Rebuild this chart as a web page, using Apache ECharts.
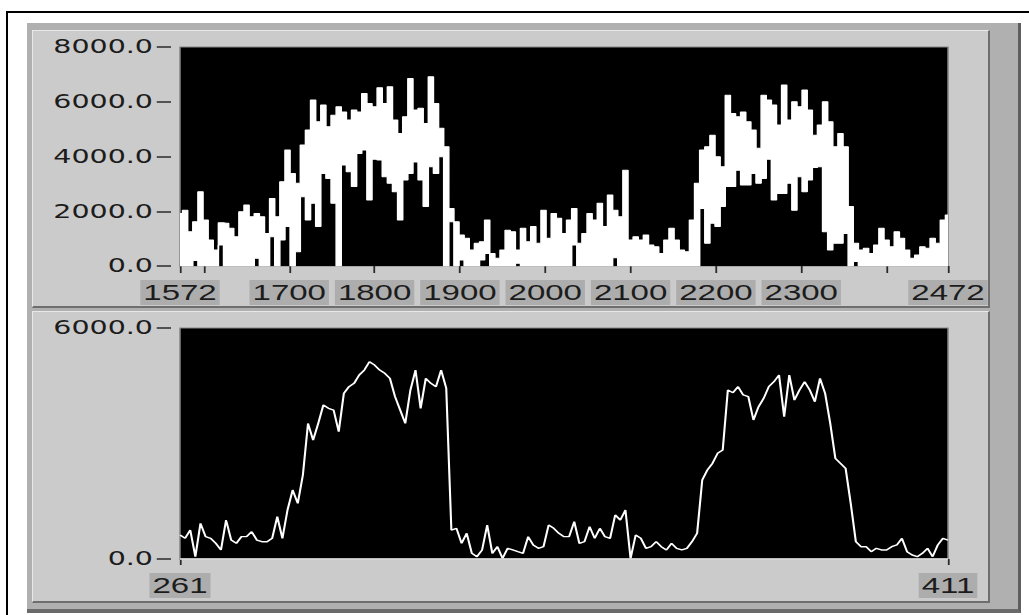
<!DOCTYPE html>
<html>
<head>
<meta charset="utf-8">
<title>Graphs</title>
<script src="https://cdn.jsdelivr.net/npm/echarts@6/dist/echarts.min.js"></script>
<style>
  html, body { margin: 0; padding: 0; background: #fff; }
  body { width: 1029px; height: 615px; position: relative; overflow: hidden; }
  .abs { position: absolute; box-sizing: content-box; }
  #rule-top { left: 6px; top: 11px; width: 1023px; height: 2px; background: #000; }
  #rule-left { left: 6px; top: 11px; width: 2px; height: 604px; background: #000; }
  #frame { left: 27px; top: 23px; width: 991px; height: 586px; background: #b0b0b0; border-right: 3px solid #5e5e5e; border-bottom: 4px solid #6a6a6a; }
  .panel { left: 32px; width: 955px; background: #cbcbcb; border-top: 1px solid #e8e8e8; border-left: 1px solid #e8e8e8; border-right: 2px solid #6e6e6e; border-bottom: 2px solid #6e6e6e; }
  #panel-top { top: 30px; height: 275px; }
  #panel-bottom { top: 311px; height: 289px; }
  /* the old screenshot is stretched sideways, so the chart is drawn narrow and widened */
  #chart { left: 0; top: 0; width: 686px; height: 615px; transform: scaleX(1.5); transform-origin: 0 0; }
</style>
</head>
<body>
<div id="rule-top" class="abs"></div>
<div id="rule-left" class="abs"></div>
<div id="frame" class="abs"></div>
<div id="panel-top" class="abs panel"></div>
<div id="panel-bottom" class="abs panel"></div>
<div id="chart" class="abs"></div>

<script>
// upper graph: one sample every 6 units from 1572, top and bottom edge of the noisy trace
const topStart = 1572
const topStep = 6
const topHigh = [
  1920, 2040, 1250, 1620, 2710, 1680, 950, 580, 1580, 1560,
  1375, 1070, 1980, 2230, 1800, 1920, 1800, 1190, 2470, 1800,
  3080, 4235, 3380, 3020, 4420, 4970, 6060, 5270, 5880, 5090,
  5510, 5820, 5630, 5330, 5700, 5630, 6300, 5940, 5820, 6510,
  5940, 6550, 5330, 4840, 5450, 6850, 5700, 5760, 5210, 6910,
  5940, 5030, 4360, 2100, 1620, 1130, 1010, 580, 830, 890,
  1680, 460, 280, 580, 1310, 1250, 580, 1375, 890, 1440,
  830, 2040, 1010, 1920, 1740, 1190, 1680, 2100, 830, 1190,
  1920, 1680, 2290, 1440, 2590, 2040, 1800, 3500, 950, 1070,
  950, 1130, 770, 700, 460, 950, 1375, 950, 580, 520,
  1680, 3020, 4235, 4360, 4780, 3990, 3630, 6240, 5570, 5450,
  5630, 5270, 4970, 4300, 6240, 6060, 5880, 5150, 6610, 5330,
  6000, 5820, 6430, 5700, 4780, 5150, 6000, 5270, 4360, 4840,
  4360, 2170, 830, 580, 650, 460, 770, 1375, 950, 700,
  1250, 1010, 580, 280, 400, 700, 650, 1010, 830, 1680,
  1860
]
const topLow = [
  0, 0, 0, 200, 0, 0, 0, 0, 770, 0,
  0, 0, 0, 0, 0, 280, 0, 0, 1070, 0,
  950, 1440, 0, 520, 2530, 1680, 2290, 1440, 3380, 3200,
  2290, 0, 3690, 3440, 2900, 4110, 4235, 2410, 3900, 3870,
  3260, 3020, 2710, 1680, 3140, 3380, 3800, 3140, 2170, 3630,
  3380, 3990, 0, 1620, 0, 220, 0, 0, 0, 220,
  460, 0, 0, 0, 0, 0, 100, 0, 0, 0,
  0, 0, 0, 0, 0, 0, 0, 770, 0, 0,
  0, 0, 0, 0, 0, 300, 0, 0, 0, 0,
  0, 0, 0, 0, 0, 0, 0, 0, 0, 0,
  0, 0, 2100, 830, 1560, 1440, 2170, 2900, 2900, 3500,
  2960, 2960, 3380, 3020, 3200, 3900, 2410, 2650, 2650, 3020,
  2040, 3260, 2710, 3140, 3600, 3630, 1250, 580, 830, 830,
  1190, 0, 160, 0, 0, 0, 0, 0, 0, 0,
  0, 0, 0, 0, 0, 0, 0, 0, 0, 0,
  0
]
const topTicks = [1572, 1600, 1700, 1800, 1900, 2000, 2100, 2200, 2300, 2400, 2472]
const topLabels = [1572, 1700, 1800, 1900, 2000, 2100, 2200, 2300, 2472]

// lower graph: one value per index 261..411
const botStart = 261
const botValues = [
  623, 537, 753, 61, 926, 580, 537, 407, 234, 1013,
  493, 407, 580, 580, 710, 493, 450, 450, 537, 1100,
  537, 1273, 1792, 1446, 2182, 3520, 3090, 3523, 4000, 3913,
  3870, 3307, 4302, 4476, 4562, 4779, 4908, 5125, 5038, 4908,
  4822, 4692, 4216, 3870, 3523, 4389, 4908, 3913, 4692, 4562,
  4476, 4908, 4440, 753, 796, 407, 667, 147, 61, 234,
  883, 147, 320, 17, 277, 234, 190, 147, 580, 364,
  277, 320, 883, 796, 667, 580, 580, 970, 407, 450,
  840, 537, 796, 580, 537, 1143, 1013, 1273, 17, 623,
  537, 277, 320, 450, 320, 234, 407, 277, 234, 277,
  450, 667, 2052, 2311, 2485, 2744, 2831, 4389, 4320, 4476,
  4260, 4216, 3610, 3956, 4173, 4476, 4605, 4779, 3697, 4779,
  4129, 4389, 4605, 4389, 4086, 4692, 4302, 3523, 2614, 2485,
  2355, 1446, 450, 320, 320, 190, 277, 234, 234, 320,
  364, 537, 190, 104, 61, 147, 277, 61, 364, 537,
  493
]
const botTicks = [261, 411]

const topX = topHigh.map((_, i) => topStart + i * topStep)
const highData = topX.map((x, i) => [x, topHigh[i]])
const lowData = topX.map((x, i) => [x, topLow[i]])
const botData = botValues.map((v, i) => [botStart + i, v])

const textColor = '#1c1c1c'
const yLabel = { margin: 12, fontFamily: 'DejaVu Sans', fontSize: 19, color: textColor, formatter: v => v.toFixed(1) }
const yTick = { length: 9.5, lineStyle: { color: '#2a2a2a', width: 1.5 } }
const xLabel = {
  fontFamily: 'Liberation Sans', fontSize: 22, color: textColor,
  backgroundColor: '#adadad', padding: [2, 2, 1, 2], formatter: v => String(v)
}
const gridStyle = { show: true, backgroundColor: '#000', borderColor: '#858585', borderWidth: 1 }

const chart = echarts.init(document.getElementById('chart'), null, { renderer: 'svg' })
chart.setOption({
  animation: false,
  grid: [
    { left: 120, top: 47, width: 512, height: 219, ...gridStyle },
    { left: 120, top: 328, width: 512, height: 231, ...gridStyle }
  ],
  xAxis: [
    {
      gridIndex: 0, type: 'value', min: 1572, max: 2472, offset: 5,
      axisLine: { show: false }, splitLine: { show: false },
      axisTick: { customValues: topTicks, length: 7, lineStyle: { color: '#2a2a2a', width: 1.2 } },
      axisLabel: { customValues: topLabels, margin: 9, ...xLabel }
    },
    {
      gridIndex: 1, type: 'value', min: 261, max: 411, offset: 6,
      axisLine: { show: false }, splitLine: { show: false },
      axisTick: { customValues: botTicks, length: 6, lineStyle: { color: '#2a2a2a', width: 1.2 } },
      axisLabel: { customValues: botTicks, margin: 8, ...xLabel }
    }
  ],
  yAxis: [
    {
      gridIndex: 0, type: 'value', min: 0, max: 8000, interval: 2000, offset: 6,
      axisLine: { show: false }, splitLine: { show: false },
      axisTick: yTick, axisLabel: yLabel
    },
    {
      gridIndex: 1, type: 'value', min: 0, max: 6000, interval: 6000, offset: 6,
      axisLine: { show: false }, splitLine: { show: false },
      axisTick: yTick, axisLabel: yLabel
    }
  ],
  series: [
    // upper edge filled white down to zero, then the lower edge blacked out again
    {
      type: 'line', xAxisIndex: 0, yAxisIndex: 0, data: highData,
      step: 'middle', symbol: 'none', lineStyle: { color: '#fff', width: 1 },
      areaStyle: { color: '#fff', opacity: 1 }
    },
    {
      type: 'line', xAxisIndex: 0, yAxisIndex: 0, data: lowData,
      step: 'middle', symbol: 'none', lineStyle: { color: '#fff', width: 1 },
      areaStyle: { color: '#000', opacity: 1 }
    },
    {
      type: 'line', xAxisIndex: 1, yAxisIndex: 1, data: botData,
      symbol: 'none', lineStyle: { color: '#fff', width: 1.4 },
      markLine: {
        silent: true, symbol: 'none', label: { show: false },
        lineStyle: { color: '#e6e6e6', type: 'solid', width: 1.5 },
        data: [{ yAxis: 0 }]
      }
    }
  ]
})
</script>
</body>
</html>
